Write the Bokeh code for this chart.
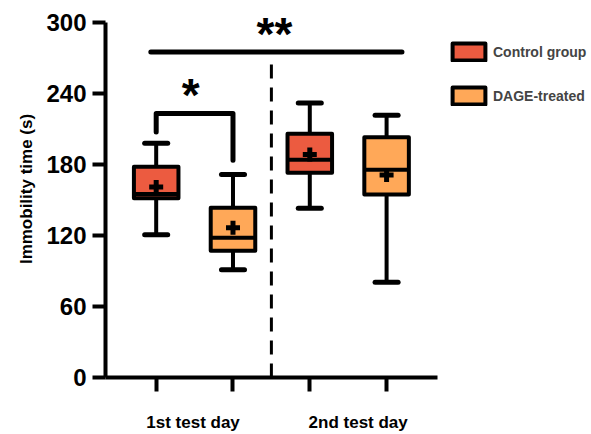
from bokeh.plotting import figure
from bokeh.models import (ColumnDataSource, FixedTicker, Legend, LegendItem,
                          Range1d, CDSView, GroupFilter)
from bokeh.embed import file_html
from bokeh.resources import INLINE
from bokeh.core.properties import value

# ---------------- data ----------------
positions = [1, 2, 3, 4]
groups = ["Control group", "DAGE-treated", "Control group", "DAGE-treated"]
whisker_min = [120.5, 91, 143, 80.5]
q1 = [151.5, 107, 173, 154.5]
median = [155, 118, 184, 175.5]
q3 = [178, 143.5, 206, 203]
whisker_max = [198, 171.5, 232, 221.5]
mean = [161, 126.5, 188.5, 171]

y_ticks = [0, 60, 120, 180, 240, 300]
day_labels = ["1st test day", "2nd test day"]
day_label_pos = [1.48, 3.63]
y_label = "Immobility time (s)"

legend_labels = ["Control group", "DAGE-treated"]

# significance annotations
sig1_x = [1, 1, 2, 2]
sig1_y = [207.5, 223, 223, 183.5]
sig1_text = ["*"]
sig1_text_x = [1.45]
sig1_text_y = [239]
sig2_x = [0.93, 4.2]
sig2_y = [275, 275]
sig2_text = ["**"]
sig2_text_x = [2.54]
sig2_text_y = [290]
divider_x = [2.5, 2.5]
divider_y = [0, 266.5]

# ---------------- styles ----------------
FONT = "Liberation Sans"
box_colors = {"Control group": "#EC5B40", "DAGE-treated": "#FFA858"}
box_width = 0.58
cap_half = 0.15

src = ColumnDataSource(dict(
    x=positions, group=groups, lo=whisker_min, q1=q1, med=median, q3=q3,
    hi=whisker_max, mean=mean,
    left=[x - box_width / 2 for x in positions],
    right=[x + box_width / 2 for x in positions],
    cl=[x - cap_half for x in positions],
    cr=[x + cap_half for x in positions],
))

x_start, x_end = 0.34, 6.668
p = figure(width=591, height=434, output_backend="svg", toolbar_location=None,
           x_range=Range1d(x_start, x_end), y_range=Range1d(0, 318.5),
           min_border_left=105, min_border_right=0, min_border_top=0,
           min_border_bottom=56)
p.outline_line_color = None
p.xgrid.visible = False
p.ygrid.visible = False
p.background_fill_color = "white"
p.border_fill_color = "white"

# whiskers
p.segment(x0="x", y0="q3", x1="x", y1="hi", source=src, line_color="black", line_width=4)
p.segment(x0="x", y0="q1", x1="x", y1="lo", source=src, line_color="black", line_width=4)
p.segment(x0="cl", y0="hi", x1="cr", y1="hi", source=src, line_color="black",
          line_width=5, line_cap="round")
p.segment(x0="cl", y0="lo", x1="cr", y1="lo", source=src, line_color="black",
          line_width=5, line_cap="round")
# boxes (one renderer per group, used by the legend)
items = []
for g in legend_labels:
    view = CDSView(filter=GroupFilter(column_name="group", group=g))
    r = p.vbar(x="x", bottom="q1", top="q3", width=box_width, source=src, view=view,
               fill_color=box_colors[g], line_color="black", line_width=4,
               line_join="round")
    items.append(LegendItem(label=g, renderers=[r]))
p.segment(x0="left", y0="med", x1="right", y1="med", source=src,
          line_color="black", line_width=4)
p.scatter(x="x", y="mean", source=src, marker="cross", size=14,
          line_color="black", line_width=5)

# divider
p.line(divider_x, divider_y, line_color="black", line_width=3, line_dash="14 9")

# significance
p.line(sig1_x, sig1_y, line_color="black", line_width=5, line_cap="round",
       line_join="round")
p.line(sig2_x, sig2_y, line_color="black", line_width=5, line_cap="round")
p.text(x=sig1_text_x, y=sig1_text_y, text=sig1_text, text_align="center",
       text_baseline="middle", text_font=value(FONT), text_font_style="bold",
       text_font_size="46px", text_color="black")
p.text(x=sig2_text_x, y=sig2_text_y, text=sig2_text, text_align="center",
       text_baseline="middle", text_font=value(FONT), text_font_style="bold",
       text_font_size="46px", text_color="black")

# legend
legend = Legend(items=items, location=(343, 271), orientation="vertical",
                glyph_width=41, glyph_height=21, spacing=23, padding=0, margin=0,
                label_standoff=4, label_text_font=FONT, label_text_font_style="bold",
                label_text_font_size="14px", border_line_color=None,
                background_fill_alpha=0)
p.add_layout(legend)

# y axis
ya = p.yaxis[0]
ya.ticker = FixedTicker(ticks=y_ticks)
ya.bounds = (0, 300)
ya.axis_line_width = 4
ya.major_tick_line_width = 4
ya.major_tick_out = 13
ya.major_tick_in = 0
ya.minor_tick_line_color = None
ya.major_label_text_font = FONT
ya.major_label_text_font_style = "bold"
ya.major_label_text_font_size = "24px"
ya.major_label_text_color = "black"
ya.major_label_standoff = 6
ya.axis_label = y_label
ya.axis_label_text_font = FONT
ya.axis_label_text_font_style = "bold"
ya.axis_label_text_font_size = "17px"
ya.axis_label_text_color = "black"
ya.axis_label_standoff = 7

# x axis: group ticks as minor ticks, day labels as major labels
xa = p.xaxis[0]
xa.ticker = FixedTicker(ticks=day_label_pos, minor_ticks=positions)
xa.bounds = (x_start, 4.66)
xa.axis_line_width = 4
xa.major_tick_line_color = None
xa.major_tick_out = 0
xa.major_tick_in = 0
xa.minor_tick_line_color = "black"
xa.minor_tick_line_width = 4
xa.minor_tick_out = 14
xa.minor_tick_in = 0
xa.major_label_overrides = {x: t for x, t in zip(day_label_pos, day_labels)}
xa.major_label_text_font = FONT
xa.major_label_text_font_style = "bold"
xa.major_label_text_font_size = "17px"
xa.major_label_text_color = "black"
xa.major_label_standoff = 21

open("out.html", "w").write(file_html(p, INLINE))
